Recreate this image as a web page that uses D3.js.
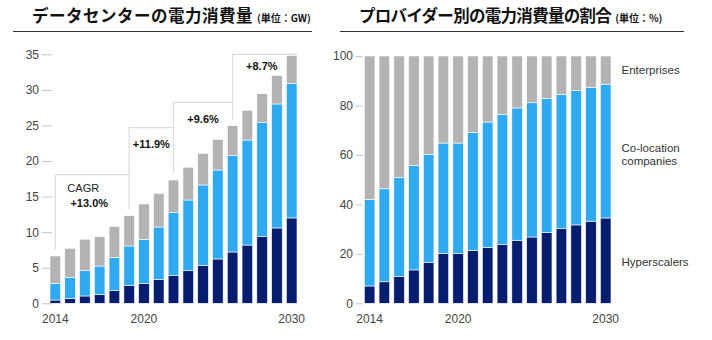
<!DOCTYPE html>
<html>
<head>
<meta charset="utf-8">
<script src="https://cdn.jsdelivr.net/npm/d3@7/dist/d3.min.js"></script>
<style>
  body { margin: 0; background: #fff; }
  svg { display: block; font-family: 'Liberation Sans', Arial, sans-serif; }
  .title { font-family: 'Noto Sans CJK JP', sans-serif; font-weight: 700; fill: #111; }
  .axis text { fill: #444; font-size: 12px; }
  .axis line { stroke: #c4c4c4; }
  .axis .domain { display: none; }
  .bracket { fill: none; stroke: #dcdcdc; stroke-width: 1.2; }
</style>
</head>
<body>
<svg id="chart" width="712" height="340"></svg>
<script>
// Years on the x axis.
var years = d3.range(2014, 2031);
var yearLabels = [2014, 2020, 2030];

// Left chart: power consumption by provider type, GW.
var hyperscalersGW = [0.46, 0.70, 1.03, 1.26, 1.78, 2.48, 2.81, 3.32, 3.88, 4.58, 5.34, 6.23, 7.21, 8.19, 9.37, 10.59, 12.0];
var colocationGW   = [2.34, 2.90, 3.55, 3.98, 4.68, 5.58, 6.19, 7.41, 8.86, 9.94, 11.29, 12.51, 13.54, 14.76, 16.02, 17.43, 18.87];
var enterprisesGW  = [3.85, 4.13, 4.42, 4.13, 4.31, 4.26, 4.96, 4.73, 4.59, 4.60, 4.45, 4.31, 4.22, 4.18, 4.08, 3.97, 3.93];

// CAGR steps: start year, label, bracket level in GW.
var cagrStart = [2014, 2019, 2022, 2026];
var cagrText  = ['+13.0%', '+11.9%', '+9.6%', '+8.7%'];
var cagrLevel = [18.1, 24.7, 28.25, 35.0];

// Right chart: share of consumption, %.
var hyperscalersPct = [7.0, 8.7, 10.9, 13.5, 16.6, 20.1, 20.1, 21.4, 22.5, 23.8, 25.5, 26.8, 28.7, 30.2, 31.7, 33.2, 34.5];
var colocationPct   = [35.0, 37.6, 40.0, 42.2, 43.5, 44.7, 44.7, 47.7, 50.8, 52.5, 53.5, 54.3, 54.2, 54.3, 54.3, 54.1, 54.1];
var enterprisesPct  = [58.0, 53.7, 49.1, 44.3, 39.9, 35.2, 35.2, 30.9, 26.7, 23.7, 21.0, 18.9, 17.1, 15.5, 14.0, 12.7, 11.4];

var seriesKeys = ['hyper', 'colo', 'ent'];
var seriesNames = ['Hyperscalers', 'Co-location\ncompanies', 'Enterprises'];
var colors = { hyper: '#061d70', colo: '#30a9f3', ent: '#b3b3b3' };

var svg = d3.select('#chart');

function rows(a, b, c) {
  return years.map(function(y, i) { return { year: y, hyper: a[i], colo: b[i], ent: c[i] }; });
}

function drawTitle(x, lineX0, lineX1, main, unit, spacing) {
  var t = svg.append('text').attr('class', 'title').attr('x', x).attr('y', 22);
  t.append('tspan').attr('font-size', 16.5).attr('letter-spacing', spacing).text(main);
  t.append('tspan').attr('font-size', 10).attr('dx', 4).text(unit);
  svg.append('line')
    .attr('x1', lineX0).attr('x2', lineX1).attr('y1', 31.5).attr('y2', 31.5)
    .attr('stroke', '#333').attr('stroke-width', 1);
}

function drawStack(data, x, y, yTicks, axisX, tickLen) {
  var stack = d3.stack().keys(seriesKeys)(data);
  var g = svg.append('g');

  g.selectAll('g.layer').data(stack).enter().append('g')
    .attr('class', 'layer')
    .attr('fill', function(d) { return colors[d.key]; })
    .selectAll('rect').data(function(d) { return d; }).enter().append('rect')
      .attr('x', function(d) { return x(d.data.year); })
      .attr('width', x.bandwidth())
      .attr('y', function(d) { return y(d[1]); })
      .attr('height', function(d) { return y(d[0]) - y(d[1]); })
      .attr('stroke', '#fff').attr('stroke-width', 0.6);

  var yAxis = d3.axisLeft(y).tickValues(yTicks).tickSize(tickLen).tickPadding(3);
  svg.append('g').attr('class', 'axis')
    .attr('transform', 'translate(' + axisX + ',0)')
    .call(yAxis);

  svg.append('g').attr('class', 'axis')
    .selectAll('text').data(yearLabels).enter().append('text')
      .attr('x', function(d) { return x(d) + x.bandwidth() / 2; })
      .attr('y', 323)
      .attr('text-anchor', 'middle')
      .attr('font-size', 11.5)
      .text(function(d) { return d; });
  return stack;
}

// Left: absolute GW
drawTitle(32, 13, 312, 'データセンターの電力消費量', '(単位：GW)', 0.5);

var xL = d3.scaleBand().domain(years).range([50, 297]).paddingInner(0.28).paddingOuter(0);
var yL = d3.scaleLinear().domain([0, 35]).range([303.3, 54.3]);
var leftData = rows(hyperscalersGW, colocationGW, enterprisesGW);
drawStack(leftData, xL, yL, d3.range(0, 36, 5), 52, 10);

// CAGR step brackets over the bars
var totals = leftData.map(function(d) { return d.hyper + d.colo + d.ent; });
cagrStart.forEach(function(yr, i) {
  var cx = xL(yr) + xL.bandwidth() / 2;
  var endX = i < cagrStart.length - 1 ? xL(cagrStart[i + 1]) + xL.bandwidth() / 2 : xL(2030) + xL.bandwidth();
  var base = yL(totals[years.indexOf(yr)]) - 6;
  var top = yL(cagrLevel[i]);
  svg.append('path').attr('class', 'bracket')
    .attr('d', 'M' + cx + ',' + base + 'V' + top + 'H' + endX);

  var mid = (cx + endX) / 2 - (i === 0 ? 3 : (i === 3 ? 3 : 0));
  if (i === 0) {
    svg.append('text').attr('x', mid - 6).attr('y', top + 17.5)
      .attr('text-anchor', 'middle').attr('font-size', 11).attr('fill', '#222')
      .text('CAGR');
  }
  svg.append('text')
    .attr('x', mid)
    .attr('y', top + (i === 0 ? 32 : (i === 3 ? 15.5 : 20.5)))
    .attr('text-anchor', 'middle').attr('font-size', 11).attr('font-weight', 700).attr('fill', '#111')
    .text(cagrText[i]);
});

// Right: share %
drawTitle(359, 340, 684, 'プロバイダー別の電力消費量の割合', '(単位：%)', -0.7);

var xR = d3.scaleBand().domain(years).range([364.3, 611]).paddingInner(0.28).paddingOuter(0);
var yR = d3.scaleLinear().domain([0, 100]).range([303.3, 56]);
drawStack(rows(hyperscalersPct, colocationPct, enterprisesPct), xR, yR, d3.range(0, 101, 20), 362.5, 6.5);

// Series names beside the last bar
var labelY = { hyper: 266, colo: 151.5, ent: 73.5 };
seriesKeys.forEach(function(k, i) {
  var t = svg.append('text').attr('x', 621.5).attr('y', labelY[k])
    .attr('font-size', 11.5).attr('fill', '#333');
  seriesNames[i].split('\n').forEach(function(s, j) {
    t.append('tspan').attr('x', 621.5).attr('dy', j === 0 ? 0 : 13.5).text(s);
  });
});
</script>
</body>
</html>
